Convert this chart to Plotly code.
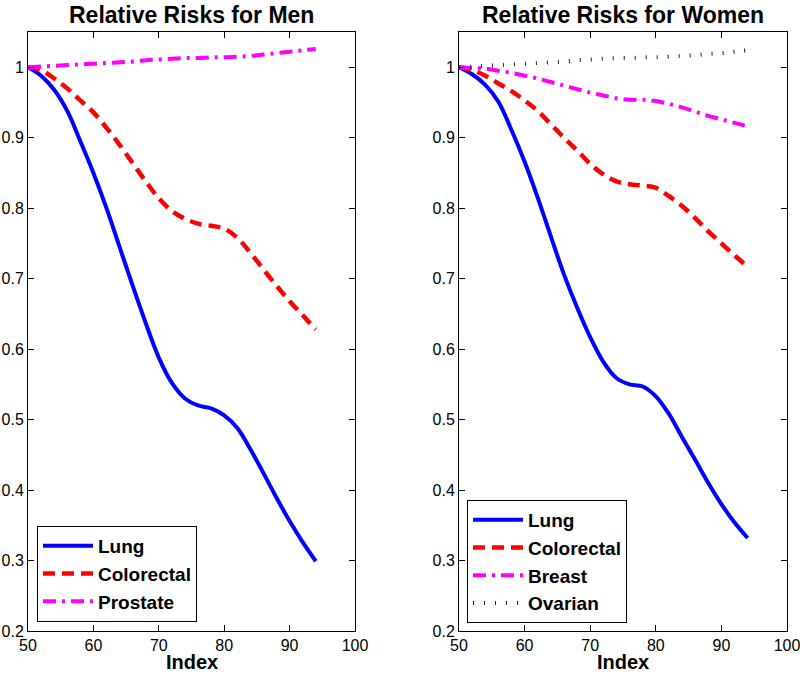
import plotly.graph_objects as go

# --- data ---
age = [50, 52, 54, 56, 58, 60, 62, 64, 66, 68, 70, 72, 74, 76, 78, 80, 82, 84, 86, 88, 90, 92, 94]

men_lung = [1.0, 0.988, 0.968, 0.938, 0.895, 0.85, 0.80, 0.745, 0.69, 0.637, 0.588, 0.552, 0.530,
            0.520, 0.516, 0.506, 0.488, 0.458, 0.424, 0.389, 0.356, 0.326, 0.299]
men_colorectal = [1.0, 0.996, 0.984, 0.970, 0.953, 0.936, 0.914, 0.890, 0.864, 0.838, 0.814, 0.796,
                  0.785, 0.778, 0.775, 0.771, 0.758, 0.737, 0.713, 0.690, 0.668, 0.648, 0.628]
men_prostate = [1.0, 1.001, 1.002, 1.003, 1.004, 1.005, 1.006, 1.007, 1.008, 1.010, 1.011, 1.012,
                1.013, 1.013, 1.014, 1.014, 1.015, 1.016, 1.018, 1.020, 1.022, 1.024, 1.026]

women_lung = [1.0, 0.99, 0.975, 0.951, 0.911, 0.866, 0.815, 0.76, 0.706, 0.659, 0.617, 0.582, 0.559,
              0.55, 0.547, 0.533, 0.508, 0.475, 0.443, 0.41, 0.38, 0.354, 0.332]
women_colorectal = [1.0, 0.996, 0.988, 0.977, 0.966, 0.953, 0.938, 0.919, 0.9, 0.882, 0.863, 0.848,
                    0.838, 0.834, 0.832, 0.829, 0.817, 0.803, 0.786, 0.767, 0.75, 0.733, 0.717]
women_breast = [1.0, 0.999, 0.998, 0.995, 0.992, 0.988, 0.984, 0.979, 0.974, 0.969, 0.964, 0.96,
                0.956, 0.954, 0.954, 0.952, 0.948, 0.943, 0.937, 0.931, 0.926, 0.921, 0.916]
women_ovarian = [1.0, 1.001, 1.002, 1.003, 1.004, 1.005, 1.006, 1.007, 1.008, 1.010, 1.011, 1.012,
                 1.013, 1.013, 1.014, 1.014, 1.015, 1.016, 1.017, 1.019, 1.020, 1.022, 1.024]

xticks = [50, 60, 70, 80, 90, 100]
yticks = [0.2, 0.3, 0.4, 0.5, 0.6, 0.7, 0.8, 0.9, 1.0]
yticklabels = ["0.2", "0.3", "0.4", "0.5", "0.6", "0.7", "0.8", "0.9", "1"]

FONT = "Arial, Liberation Sans, sans-serif"
W, H = 800, 675

DASH = "12px,7px"
DASHDOT = "13px,6px,3px,6px"
DOT = "1px,10px"

fig = go.Figure()

def add(x, y, name, color, dash, width, xa, ya, legend):
    fig.add_trace(go.Scatter(
        x=x, y=y, name=name, mode="lines",
        line=dict(color=color, dash=dash, width=width, shape="spline", smoothing=1.0),
        xaxis=xa, yaxis=ya, legend=legend,
    ))

add(age, men_lung, "Lung", "#0000ff", "solid", 4, "x", "y", "legend")
add(age, men_colorectal, "Colorectal", "#ff0000", DASH, 4.5, "x", "y", "legend")
add(age, men_prostate, "Prostate", "#ff00ff", DASHDOT, 4, "x", "y", "legend")

add(age, women_lung, "Lung", "#0000ff", "solid", 4, "x2", "y2", "legend2")
add(age, women_colorectal, "Colorectal", "#ff0000", DASH, 4.5, "x2", "y2", "legend2")
add(age, women_breast, "Breast", "#ff00ff", DASHDOT, 4, "x2", "y2", "legend2")
add(age, women_ovarian, "Ovarian", "#222222", DOT, 4, "x2", "y2", "legend2")

ydom = [1 - 631 / H, 1 - 32 / H]
axis_common = dict(
    showline=True, linecolor="black", linewidth=1, mirror="ticks",
    ticks="inside", ticklen=6, tickcolor="black",
    showgrid=False, zeroline=False, automargin=False, ticklabeloverflow="allow",
    tickfont=dict(family=FONT, size=16, color="black"),
)
legend_common = dict(
    xanchor="left", yanchor="bottom",
    bordercolor="black", borderwidth=1, bgcolor="white",
    font=dict(family=FONT, size=19, color="black", weight="bold"),
    tracegroupgap=0, itemwidth=50,
)

fig.update_layout(
    width=W, height=H,
    margin=dict(l=0, r=0, t=0, b=0),
    paper_bgcolor="white", plot_bgcolor="white",
    font=dict(family=FONT, color="black"),
    xaxis=dict(domain=[28 / W, 355 / W], range=[50, 100], tickvals=xticks, anchor="y", **axis_common),
    yaxis=dict(domain=ydom, range=[0.2, 1.05], tickvals=yticks, ticktext=yticklabels, anchor="x", **axis_common),
    xaxis2=dict(domain=[459 / W, 787 / W], range=[50, 100], tickvals=xticks, anchor="y2", **axis_common),
    yaxis2=dict(domain=ydom, range=[0.2, 1.05], tickvals=yticks, ticktext=yticklabels, anchor="x2", **axis_common),
    legend=dict(x=37 / W, y=1 - 622 / H, **legend_common),
    legend2=dict(x=467 / W, y=1 - 623 / H, **legend_common),
)

# titles and x labels
for cx, title in [((28 + 355) / 2, "Relative Risks for Men"), ((459 + 787) / 2, "Relative Risks for Women")]:
    fig.add_annotation(
        x=cx / W, y=1, xref="paper", yref="paper", xanchor="center", yanchor="top",
        text=f"<b>{title}</b>", showarrow=False, font=dict(family=FONT, size=23, color="black"),
    )
    fig.add_annotation(
        x=cx / W, y=0, xref="paper", yref="paper", xanchor="center", yanchor="bottom",
        text="<b>Index</b>", showarrow=False, font=dict(family=FONT, size=20, color="black"),
    )

# page body has an 8px default margin; drop it so the figure fills the window
fig.write_html("out.html", config={"displayModeBar": False},
               post_script="document.body.style.margin='0';")
